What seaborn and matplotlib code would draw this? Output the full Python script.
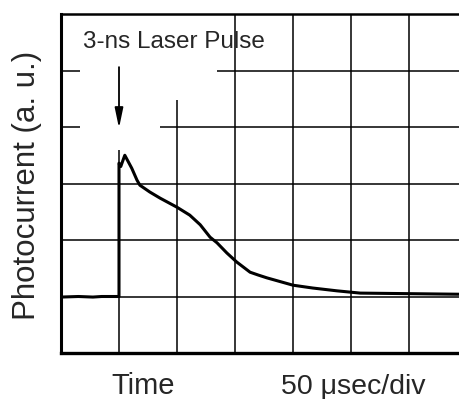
import matplotlib
matplotlib.use("Agg")
import matplotlib.pyplot as plt
import seaborn as sns
import pandas as pd
from matplotlib.patches import Polygon

# ---- data (in oscilloscope divisions) ----
time_div = [0.0, 0.30, 0.55, 0.70, 0.99, 1.00, 1.00, 1.03, 1.10, 1.22, 1.31,
            1.36, 1.53, 1.71, 2.00, 2.22, 2.40, 2.57, 2.69, 2.86, 3.03, 3.26, 3.40,
            3.55, 4.00, 4.34, 4.76, 5.16, 6.02, 6.86]
signal_div = [0.99, 1.00, 0.99, 1.00, 1.00, 1.00, 3.36, 3.30, 3.50, 3.27, 3.06,
              2.97, 2.85, 2.74, 2.58, 2.44, 2.27, 2.05, 1.95, 1.77, 1.61, 1.43, 1.38,
              1.33, 1.20, 1.15, 1.10, 1.06, 1.05, 1.04]
x_divs = [0, 1, 2, 3, 4, 5, 6]
y_divs = [0, 1, 2, 3, 4, 5, 6]
pulse_label = "3-ns Laser Pulse"
pulse_time = 1.0
y_label = "Photocurrent (a. u.)"
x_label = "Time"
scale_label = "50 \u03bcsec/div"

df = pd.DataFrame({"t": time_div, "v": signal_div})

sns.set_style("white")
plt.rcParams["font.family"] = ["Liberation Sans", "DejaVu Sans"]

W, H = 459, 399
fig = plt.figure(figsize=(W / 100, H / 100), dpi=100)
left, right, bottom, top = 61, 459, 353, 14
ax = fig.add_axes([left / W, (H - bottom) / H, (right - left) / W, (bottom - top) / H])

sns.lineplot(data=df, x="t", y="v", ax=ax, sort=False, estimator=None,
             color="black", linewidth=2.2, zorder=3)

ax.set_xlim(0, (right - left) / 58.0)
ax.set_ylim(0, 6)
ax.set_xticks(x_divs)
ax.set_yticks(y_divs)
ax.tick_params(length=0, labelbottom=False, labelleft=False)
ax.set_xlabel("")
ax.set_ylabel("")
ax.set_axisbelow(True)
ax.grid(True, color="black", linewidth=1.1)
for s in ["left", "bottom", "top"]:
    ax.spines[s].set_color("black")
ax.spines["left"].set_linewidth(2.2)
ax.spines["bottom"].set_linewidth(2.4)
ax.spines["top"].set_linewidth(1.8)
ax.spines["right"].set_visible(False)

# white clearing behind the annotation
mask = Polygon([(0.33, 6.0), (2.69, 6.0), (2.69, 4.48), (1.71, 4.48),
                (1.71, 3.59), (0.33, 3.59)], closed=True,
               facecolor="white", edgecolor="none", zorder=1)
ax.add_patch(mask)

ax.text(0.38, 5.40, pulse_label, fontsize=17.5, ha="left", va="baseline", zorder=4)
ax.annotate("", xy=(pulse_time, 3.98), xytext=(pulse_time, 5.06),
            arrowprops=dict(arrowstyle="-|>,head_length=1.2,head_width=0.25",
                            color="black", lw=1.3, shrinkA=0, shrinkB=0), zorder=4)

fig.text(27 / W, (H - 185.5) / H, y_label, rotation=90, fontsize=22.5,
         ha="center", va="center")
fig.text(143 / W, (H - 394) / H, x_label, fontsize=21, ha="center", va="baseline")
fig.text(353 / W, (H - 394) / H, scale_label, fontsize=20.5, ha="center", va="baseline")

fig.savefig("out.png", dpi=100)
